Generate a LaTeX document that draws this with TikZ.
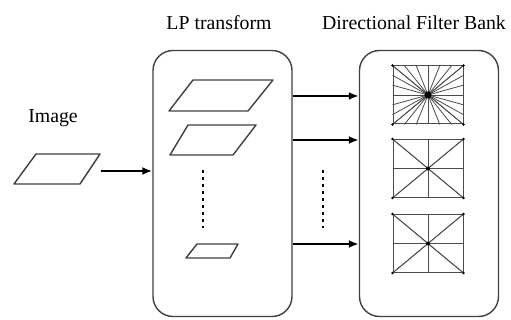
\documentclass[tikz,border=0pt]{standalone}
\usepackage{fontspec}
\setmainfont{Liberation Serif}
\usetikzlibrary{arrows.meta,calc}

\tikzset{
  box/.style={draw=black!75,line width=1.4pt,rounded corners=20pt,minimum width=139pt,minimum height=266pt},
  sq/.style={draw=black!70,line width=1pt,minimum width=70pt,minimum height=58pt,inner sep=0pt},
  ray/.style={black!70,line width=0.8pt},
  band/.style={draw=black!75,line width=1.4pt,line join=round},
  flow/.style={line width=2pt,-{Latex[length=10pt,width=8pt]}},
  vdots/.style={line width=2.6pt,dash pattern=on 3.5pt off 3.5pt},
  lbl/.style={font=\fontsize{19.8}{24}\selectfont}
}

\begin{document}
\begin{tikzpicture}[x=1pt,y=-1pt]
  \useasboundingbox (0,0) rectangle (511,320);

  % titles
  \node[lbl] (imglbl) at (53,118) {Image};
  \node[lbl] (lplbl) at (219,23) {LP transform};
  \node[lbl] (dfblbl) at (414,23) {Directional Filter Bank};

  % the two blocks
  \node[box] (lp) at (222.5,183.5) {};
  \node[box] (dfb) at (429,183.5) {};

  % input image
  \draw[band] (14,184) -- (80,184) -- (100,154) -- (36,154) -- cycle;
  \coordinate (img) at (101,171);
  \draw[flow] (img) -- (lp.west |- img);

  % pyramid levels
  \draw[band] (169,111) -- (248,111) -- (273,80) -- (193,80) -- cycle;
  \draw[band] (170,155) -- (233,155) -- (256,125) -- (188,125) -- cycle;
  \draw[band] (186,258) -- (230,258) -- (238,244) -- (197,244) -- cycle;
  \draw[vdots] (203,170) -- (203,228);

  % outputs
  \foreach \y in {96,140,244}
    \draw[flow] (lp.east |- 0,\y) -- (dfb.west |- 0,\y);
  \draw[vdots] (323,170) -- (323,228);

  % directional filters
  \node[sq] (s1) at (428,95) {};
  \node[sq] (s2) at (428,168.5) {};
  \node[sq] (s3) at (428,243.5) {};
  \foreach \f in {0,...,6} {
    \draw[ray] ($(s1.north west)!\f/6!(s1.north east)$) -- ($(s1.south east)!\f/6!(s1.south west)$);
    \draw[ray] ($(s1.north west)!\f/6!(s1.south west)$) -- ($(s1.south east)!\f/6!(s1.north east)$);
  }
  \foreach \s in {s2,s3}
    \foreach \f in {0,...,2} {
      \draw[ray] ($(\s.north west)!\f/2!(\s.north east)$) -- ($(\s.south east)!\f/2!(\s.south west)$);
      \draw[ray] ($(\s.north west)!\f/2!(\s.south west)$) -- ($(\s.south east)!\f/2!(\s.north east)$);
    }
  \foreach \s in {s1,s2,s3} {
    \foreach \c in {north west,north east,south west,south east}
      \fill (\s.\c) circle (1.3pt);
    \fill (\s.center) circle (2pt);
  }
  \fill (s1.center) circle (3.5pt);
\end{tikzpicture}
\end{document}
